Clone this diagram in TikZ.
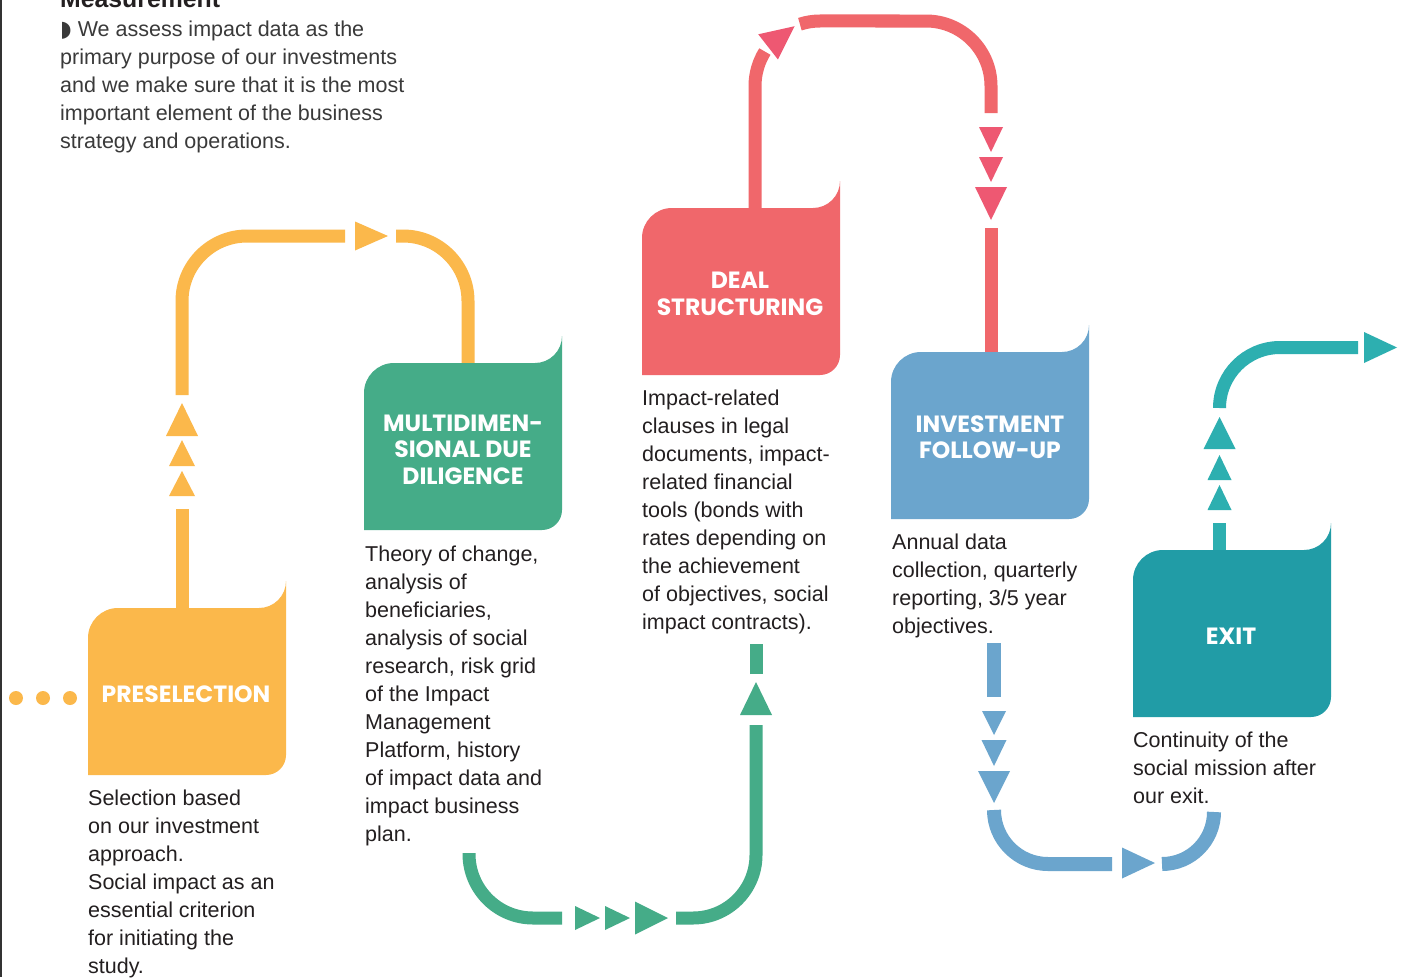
\documentclass[tikz,border=0pt]{standalone}
\usepackage{fontspec}
\setmainfont{Liberation Sans}
\newfontfamily\titlefont{Poppins}
\newfontfamily\glyphfont{DejaVu Sans}
\usetikzlibrary{calc}

\definecolor{preY}{HTML}{FBB84B}
\definecolor{ddG}{HTML}{45AC88}
\definecolor{dealR}{HTML}{F0676B}
\definecolor{dealTri}{HTML}{EE5872}
\definecolor{fuB}{HTML}{6BA5CD}
\definecolor{exitT}{HTML}{219CA6}
\definecolor{exitL}{HTML}{2DAFB0}
\definecolor{bodytext}{HTML}{231F20}
\definecolor{leadtext}{HTML}{3A3A3A}

% stage box: left edge, top edge, colour (198 x 167, with a raised tab at top right)
\newcommand\stagebox[3]{%
  \fill[#3] ({#1},{-(#2)-167}) -- ({#1},{-(#2)-30})
    arc[start angle=180,end angle=90,radius=30]
    -- ({#1+198-27},{-(#2)})
    arc[start angle=270,end angle=360,radius=27]
    -- ({#1+198},{-(#2)-167+20})
    arc[start angle=0,end angle=-90,radius=20] -- cycle;}

% triangular pointer: colour, base x, base y, direction, length, half width
\newcommand\pointer[6]{%
  \fill[#1, shift={(#2,#3)}, rotate=#4] (0,#6) -- (#5,0) -- (0,-#6) -- cycle;}

\tikzset{
  flow/.style={line width=13pt},
  title/.style={text=white, align=center, inner sep=0pt,
    font=\titlefont\bfseries\fontsize{23.5}{26.5}\selectfont},
  body/.style={anchor=base west, inner sep=0pt, text=bodytext,
    font=\fontsize{21.5}{28}\selectfont},
  dot/.style={fill=preY, circle, minimum size=14pt, inner sep=0pt}
}

\begin{document}
\begin{tikzpicture}[x=1pt,y=1pt]
\useasboundingbox (0,0) rectangle (1405,-977);
\fill[white] (0,0) rectangle (1405,-977);
\draw[line width=1.5pt, black!80] (0.75,0) -- (0.75,-977);

% introduction
\node[anchor=base west, inner sep=0pt, text=bodytext,
  font=\bfseries\fontsize{24.8}{28}\selectfont] (head) at (60,-8) {Measurement};
\node[body, text=leadtext] (lead) at (60,-36) {\begin{tabular}[t]{@{}l@{}}%
{\glyphfont\fontsize{22}{28}\selectfont ◗}\hspace{6pt}We assess impact data as the\\
primary purpose of our investments\\
and we make sure that it is the most\\
important element of the business\\
strategy and operations.\end{tabular}};

% leading dots
\node[dot] (d1) at (16,-698) {};
\node[dot] (d2) at (43,-698) {};
\node[dot] (d3) at (70,-698) {};

% preselection -> due diligence
\draw[flow, preY] (182,-612) -- (182,-509);
\pointer{preY}{182}{-496}{90}{25}{13}
\pointer{preY}{182}{-466}{90}{26}{13}
\pointer{preY}{182}{-436}{90}{33}{16}
\draw[flow, preY] (182,-395) -- (182,-301)
  arc[start angle=180,end angle=90,radius=65] -- (345,-236);
\pointer{preY}{355}{-236}{0}{33}{14.5}
\draw[flow, preY] (396,-236) -- (403,-236)
  arc[start angle=90,end angle=0,radius=65] -- (468,-368);

% due diligence -> deal structuring
\draw[flow, ddG] (469,-853) -- (469,-854)
  arc[start angle=180,end angle=270,radius=64] -- (562,-918);
\pointer{ddG}{575}{-918}{0}{25}{12}
\pointer{ddG}{605}{-918}{0}{25}{12}
\pointer{ddG}{635}{-918}{0}{33}{16.5}
\draw[flow, ddG] (676,-918) -- (693,-918)
  arc[start angle=270,end angle=360,radius=63] -- (756,-725);
\pointer{ddG}{756}{-715}{90}{33}{16}
\draw[flow, ddG] (756,-674) -- (756,-644);

% deal structuring -> investment follow-up
\draw[flow, dealR] (755,-212) -- (755,-86)
  arc[start angle=180,end angle=148,radius=65];
\pointer{dealTri}{768.1}{-46.9}{38}{33.6}{16}
\draw[flow, dealR] (799.9,-24.18)
  arc[start angle=108,end angle=90,radius=65] -- (926,-21)
  arc[start angle=90,end angle=0,radius=65] -- (991,-113);
\pointer{dealTri}{991}{-127}{-90}{25}{12}
\pointer{dealTri}{991}{-157}{-90}{25}{12}
\pointer{dealTri}{991}{-187}{-90}{33}{16}
\draw[flow, dealR] (991,-228) -- (991,-356);

% investment follow-up -> exit
\draw[flow, fuB, line width=14pt] (994,-643) -- (994,-697);
\pointer{fuB}{994}{-711}{-90}{24}{12}
\pointer{fuB}{994}{-740}{-90}{26}{12.5}
\pointer{fuB}{994}{-771}{-90}{32}{16}
\draw[flow, fuB, line width=14pt] (994,-810)
  arc[start angle=180,end angle=270,radius=54] -- (1112,-864);
\pointer{fuB}{1122}{-863}{0}{33}{15.5}
\draw[flow, fuB, line width=14pt] (1162,-864)
  arc[start angle=270,end angle=360,radius=52];

% exit -> onward
\draw[flow, exitL] (1219.5,-553) -- (1219.5,-523);
\pointer{exitL}{1219.5}{-510}{90}{25}{12}
\pointer{exitL}{1219.5}{-480}{90}{25}{12}
\pointer{exitL}{1219.5}{-449}{90}{32}{16}
\draw[flow, exitL] (1219.5,-408)
  arc[start angle=180,end angle=90,radius=60.5] -- (1358,-347.5);
\pointer{exitL}{1364}{-347.5}{0}{33}{15.5}

% stage boxes
\stagebox{88}{608}{preY}
\stagebox{364}{363}{ddG}
\stagebox{642}{208}{dealR}
\stagebox{891}{352}{fuB}
\stagebox{1133}{550}{exitT}

\node[title] (pre) at (186,-694) {PRESELECTION};
\node[title] (dd) at (463,-449.5) {MULTIDIMEN-\\SIONAL DUE\\DILIGENCE};
\node[title] (deal) at (740,-294) {DEAL\\STRUCTURING};
\node[title] (fu) at (990,-437) {INVESTMENT\\FOLLOW-UP};
\node[title] (exit) at (1231,-636) {EXIT};

% descriptions
\node[body] (pretext) at (88,-805) {\begin{tabular}[t]{@{}l@{}}%
Selection based\\ on our investment\\ approach.\\ Social impact as an\\
essential criterion\\ for initiating the\\ study.\end{tabular}};
\node[body] (ddtext) at (365,-561) {\begin{tabular}[t]{@{}l@{}}%
Theory of change,\\ analysis of\\ beneficiaries,\\ analysis of social\\
research, risk grid\\ of the Impact\\ Management\\ Platform, history\\
of impact data and\\ impact business\\ plan.\end{tabular}};
\node[body] (dealtext) at (642,-405) {\begin{tabular}[t]{@{}l@{}}%
Impact-related\\ clauses in legal\\ documents, impact-\\ related financial\\
tools (bonds with\\ rates depending on\\ the achievement\\ of objectives, social\\
impact contracts).\end{tabular}};
\node[body] (futext) at (892,-549) {\begin{tabular}[t]{@{}l@{}}%
Annual data\\ collection, quarterly\\ reporting, 3/5 year\\ objectives.\end{tabular}};
\node[body] (exittext) at (1133,-747) {\begin{tabular}[t]{@{}l@{}}%
Continuity of the\\ social mission after\\ our exit.\end{tabular}};
\end{tikzpicture}
\end{document}
